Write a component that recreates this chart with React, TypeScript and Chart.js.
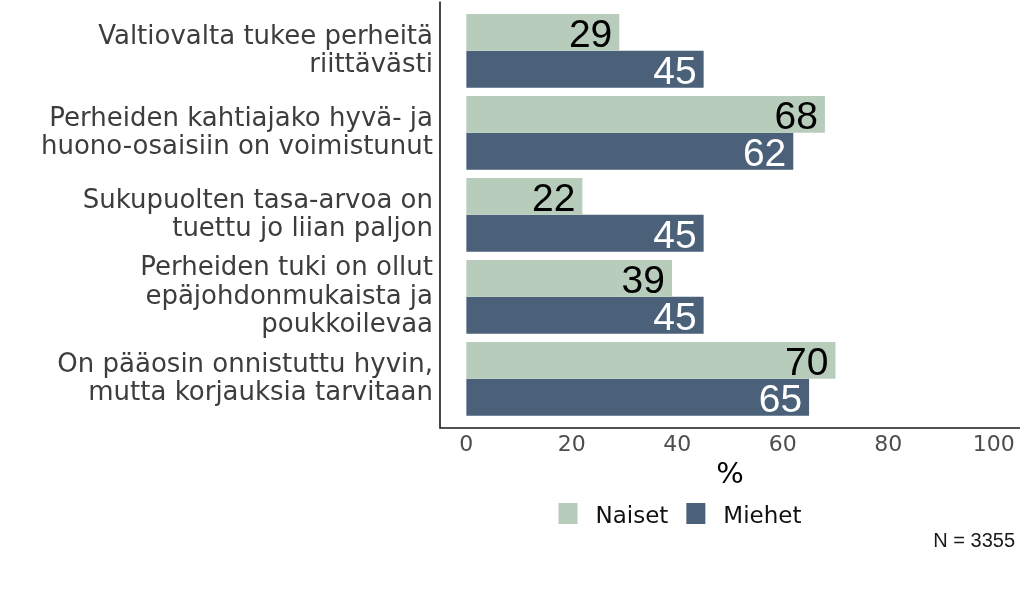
import React, { useEffect, useRef } from "react";
import { Chart, registerables } from "chart.js";

Chart.register(...registerables);

const categories: string[][] = [
  ["Valtiovalta tukee perheitä", "riittävästi"],
  ["Perheiden kahtiajako hyvä- ja", "huono-osaisiin on voimistunut"],
  ["Sukupuolten tasa-arvoa on", "tuettu jo liian paljon"],
  ["Perheiden tuki on ollut", "epäjohdonmukaista ja", "poukkoilevaa"],
  ["On pääosin onnistuttu hyvin,", "mutta korjauksia tarvitaan"],
];
const seriesNames = ["Naiset", "Miehet"];
const naiset = [29, 68, 22, 39, 70];
const miehet = [45, 62, 45, 45, 65];
const xTickValues = [0, 20, 40, 60, 80, 100];
const axisTitle = "%";
const caption = "N = 3355";

const colors = ["#b8ccbb", "#4b617a"];
const labelColors = ["#000000", "#ffffff"];
const FONT = "'DejaVu Sans', sans-serif";
const LABEL_FONT = "'Liberation Sans', Arial, sans-serif";

const axisLinesPlugin = {
  id: "axisLines",
  afterDraw(chart: any) {
    const { ctx, chartArea } = chart;
    const step = (chartArea.bottom - chartArea.top) / categories.length;
    const ext = step * 0.1;
    ctx.save();
    ctx.strokeStyle = "#1a1a1a";
    ctx.lineWidth = 1.6;
    ctx.beginPath();
    ctx.moveTo(chartArea.left, chartArea.top - ext);
    ctx.lineTo(chartArea.left, chartArea.bottom + ext);
    ctx.lineTo(chartArea.right, chartArea.bottom + ext);
    ctx.stroke();
    ctx.restore();
  },
};

const valueLabelPlugin = {
  id: "valueLabels",
  afterDatasetsDraw(chart: any) {
    const { ctx } = chart;
    const fs = 39;
    ctx.save();
    ctx.font = `${fs}px ${LABEL_FONT}`;
    ctx.textAlign = "right";
    ctx.textBaseline = "alphabetic";
    chart.data.datasets.forEach((ds: any, di: number) => {
      const meta = chart.getDatasetMeta(di);
      ctx.fillStyle = labelColors[di];
      meta.data.forEach((el: any, i: number) => {
        ctx.fillText(String(ds.data[i]), el.x - 7, el.y + fs * 0.375);
      });
    });
    ctx.restore();
  },
};

const bottomPlugin = {
  id: "bottomStuff",
  afterDraw(chart: any) {
    const { ctx, chartArea } = chart;
    const step = (chartArea.bottom - chartArea.top) / categories.length;
    const axisY = chartArea.bottom + step * 0.1;
    ctx.save();
    ctx.font = `23px ${FONT}`;
    ctx.textBaseline = "alphabetic";
    ctx.textAlign = "left";
    const sw = 19, sh = 21, gapText = 18, gapItem = 18;
    const items = chart.data.datasets.map((ds: any) => ({
      label: ds.label,
      color: ds.backgroundColor,
      w: ctx.measureText(ds.label).width,
    }));
    let total = 0;
    items.forEach((it: any, i: number) => {
      total += sw + gapText + it.w + (i < items.length - 1 ? gapItem : 0);
    });
    let x = 680 - total / 2;
    const cy = axisY + 85.5;
    items.forEach((it: any) => {
      ctx.fillStyle = it.color;
      ctx.fillRect(x, cy - sh / 2, sw, sh);
      x += sw + gapText;
      ctx.fillStyle = "#111111";
      ctx.fillText(it.label, x, cy + 9.5);
      x += it.w + gapItem;
    });
    ctx.font = `20px ${LABEL_FONT}`;
    ctx.textAlign = "right";
    ctx.fillStyle = "#1a1a1a";
    ctx.fillText(caption, 1015, axisY + 118.5);
    ctx.restore();
  },
};

export default function App() {
  const ref = useRef<HTMLCanvasElement | null>(null);

  useEffect(() => {
    document.body.style.margin = "0";
    if (!ref.current) return;
    const chart = new Chart(ref.current, {
      type: "bar",
      data: {
        labels: categories,
        datasets: [
          {
            label: seriesNames[0],
            data: naiset,
            backgroundColor: colors[0],
            categoryPercentage: 0.9,
            barPercentage: 1.0,
          },
          {
            label: seriesNames[1],
            data: miehet,
            backgroundColor: colors[1],
            categoryPercentage: 0.9,
            barPercentage: 1.0,
          },
        ],
      },
      options: {
        indexAxis: "y",
        responsive: false,
        animation: false,
        layout: { padding: { top: 9.8, right: 4, left: 0, bottom: 0 } },
        plugins: {
          legend: { display: false },
          tooltip: { enabled: false },
        },
        scales: {
          x: {
            type: "linear",
            min: -5,
            max: 105,
            grid: { display: false, drawTicks: false },
            border: { display: false },
            afterBuildTicks(scale: any) {
              scale.ticks = xTickValues.map((v) => ({ value: v }));
            },
            afterFit(scale: any) {
              scale.height = 597 - 419.8;
              scale.paddingLeft = 0;
              scale.paddingRight = 0;
            },
            ticks: {
              font: { family: FONT, size: 22 },
              color: "#4d4d4d",
              padding: 12,
              maxRotation: 0,
              autoSkip: false,
            },
            title: {
              display: true,
              text: axisTitle,
              color: "#000000",
              font: { family: FONT, size: 29 },
              padding: { top: 0, bottom: 104 },
            },
          },
          y: {
            type: "category",
            grid: { display: false, drawTicks: false },
            border: { display: false },
            afterFit(scale: any) {
              scale.width = 440;
              scale.paddingTop = 0;
              scale.paddingBottom = 0;
            },
            ticks: {
              font: { family: FONT, size: 26, lineHeight: 1.08 },
              color: "#3d3d3d",
              padding: 7,
              autoSkip: false,
            },
          },
        },
      },
      plugins: [axisLinesPlugin, valueLabelPlugin, bottomPlugin],
    } as any);
    return () => chart.destroy();
  }, []);

  return (
    <div style={{ width: 1024, height: 597, background: "#ffffff" }}>
      <canvas ref={ref} width={1024} height={597} style={{ display: "block" }} />
    </div>
  );
}
